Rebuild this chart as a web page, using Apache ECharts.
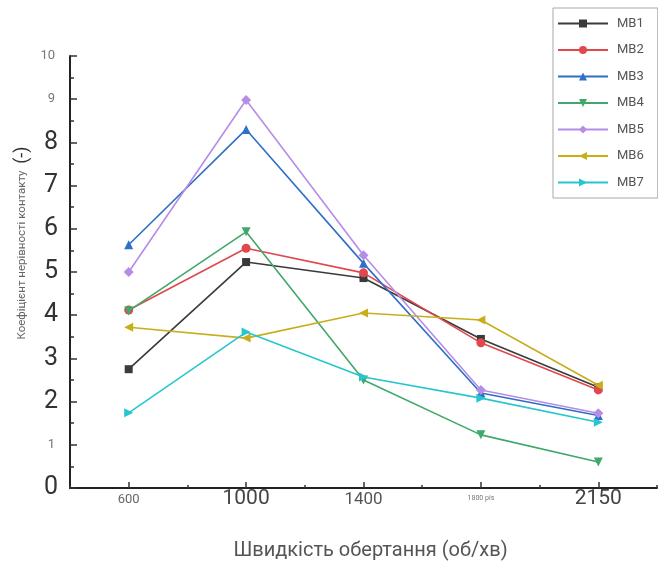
<!DOCTYPE html>
<html><head><meta charset="utf-8">
<script src="https://cdn.jsdelivr.net/npm/echarts@6/dist/echarts.min.js"></script>
<style>html,body{margin:0;padding:0;background:#fff}#c{width:658px;height:564px}</style>
</head><body><div id="c"></div>
<script>
const categories = ['600', '1000', '1400', '1800', '2150'];
const xTickLabels = ['600', '1000', '1400', '1800 pis', '2150'];
const yTickLabels = ['0', '1', '2', '3', '4', '5', '6', '7', '8', '9', '10'];
const seriesNames = ['MB1', 'MB2', 'MB3', 'MB4', 'MB5', 'MB6', 'MB7'];
const mb1 = [2.75, 5.23, 4.86, 3.45, 2.33];
const mb2 = [4.12, 5.55, 4.98, 3.36, 2.27];
const mb3 = [5.63, 8.30, 5.20, 2.20, 1.68];
const mb4 = [4.10, 5.93, 2.50, 1.23, 0.60];
const mb5 = [5.00, 8.98, 5.39, 2.27, 1.73];
const mb6 = [3.72, 3.47, 4.05, 3.89, 2.38];
const mb7 = [1.74, 3.61, 2.57, 2.08, 1.52];
const xTitle = 'Швидкість обертання (об/хв)';
const yTitle = 'Коефіцієнт нерівності контакту';
const yUnit = '(-)';

const seriesData = [mb1, mb2, mb3, mb4, mb5, mb6, mb7];
const colors = ['#3a3a3a', '#e0484e', '#2f6fc6', '#3fa86a', '#b68de6', '#c9ae1c', '#27c6cf'];
const symbols = ['rect', 'circle', 'triangle', 'triangle', 'diamond', 'triangle', 'triangle'];
const rotations = [0, 0, 0, 180, 0, 90, -90];
const sizes = [8, 9, 9, 9, 10, 9, 9];

const xStyle = {'600': 'a', '1000': 'b', '1400': 'c', '1800 pis': 'd', '2150': 'b'};
const smallY = {'10': 1, '9': 1, '1': 1};

const chart = echarts.init(document.getElementById('c'));
chart.setOption({
  animation: false,
  backgroundColor: '#fff',
  grid: {left: 70, right: 1, top: 56, bottom: 76, containLabel: false, outerBoundsMode: 'none'},
  legend: {
    orient: 'vertical', left: 553, top: 8,
    padding: [9, 14, 9, 4],
    itemWidth: 50, itemHeight: 10, itemGap: 13.5,
    borderColor: '#a8a8a8', borderWidth: 1, backgroundColor: '#fff',
    textStyle: {color: '#555', fontSize: 13, fontFamily: 'Roboto', padding: [0, 0, 0, 4]},
    data: seriesNames
  },
  xAxis: [{
    type: 'category', data: categories, boundaryGap: true,
    axisLine: {onZero: false, lineStyle: {color: '#222', width: 2}},
    axisTick: {show: true, inside: true, alignWithLabel: true, length: 6, lineStyle: {color: '#333', width: 1.5}},
    axisLabel: {
      margin: 2, interval: 0,
      formatter: function (v, i) { const t = xTickLabels[i]; return '{' + xStyle[t] + '|' + t + '}'; },
      rich: {
        a: {fontSize: 13, color: '#666', fontFamily: 'Roboto', padding: [3, 0, 0, 0]},
        b: {fontSize: 21, color: '#444', fontFamily: 'Roboto', padding: [-2, 0, 0, 0]},
        c: {fontSize: 17, color: '#555', fontFamily: 'Roboto', padding: [1, 0, 0, 0]},
        d: {fontSize: 7, color: '#777', fontFamily: 'Roboto', padding: [5, 0, 0, 0]}
      }
    },
    splitLine: {show: false},
    name: xTitle, nameLocation: 'middle', nameGap: 53,
    nameTextStyle: {fontSize: 20, color: '#555', fontFamily: 'Roboto', padding: [0, 0, 0, 14]}
  }, {
    type: 'value', min: 0, max: 10, interval: 1, position: 'bottom',
    axisLine: {show: false, onZero: false},
    axisTick: {show: true, inside: true, length: 3, lineStyle: {color: '#333', width: 1.5}},
    axisLabel: {show: false}, splitLine: {show: false}
  }],
  yAxis: {
    type: 'value', min: 0, max: 10, interval: 1,
    axisLine: {show: true, onZero: false, lineStyle: {color: '#222', width: 2}},
    axisTick: {show: true, inside: true, length: 7, lineStyle: {color: '#333', width: 1.5}},
    minorTick: {show: true, splitNumber: 2, length: 4, lineStyle: {color: '#333', width: 1.5}},
    splitLine: {show: false},
    axisLabel: {
      margin: 12,
      formatter: function (v) { const t = yTickLabels[v]; return smallY[t] ? '{s|' + t + '}' : '{b|' + t + '}'; },
      rich: {
        s: {fontSize: 13, color: '#777', fontFamily: 'Roboto', padding: [0, 3, 0, 0]},
        b: {fontSize: 25, color: '#333', fontFamily: 'Roboto'}
      }
    }
  },
  graphic: [{
    type: 'text', x: 22, y: 243, rotation: Math.PI / 2,
    style: {
      text: '{n|' + yTitle + '}  {u|' + yUnit + '}',
      align: 'center', verticalAlign: 'middle',
      rich: {
        n: {fontSize: 11.5, fill: '#666', fontFamily: 'Roboto'},
        u: {fontSize: 18, fill: '#333', fontFamily: 'Roboto'}
      }
    }
  }],
  series: seriesNames.map(function (n, i) {
    return {
      name: n, type: 'line', data: seriesData[i],
      xAxisIndex: 0,
      symbol: symbols[i], symbolSize: sizes[i], symbolRotate: rotations[i],
      lineStyle: {width: 1.6, color: colors[i]},
      itemStyle: {color: colors[i]},
      z: 2 + i
    };
  })
});
</script></body></html>
